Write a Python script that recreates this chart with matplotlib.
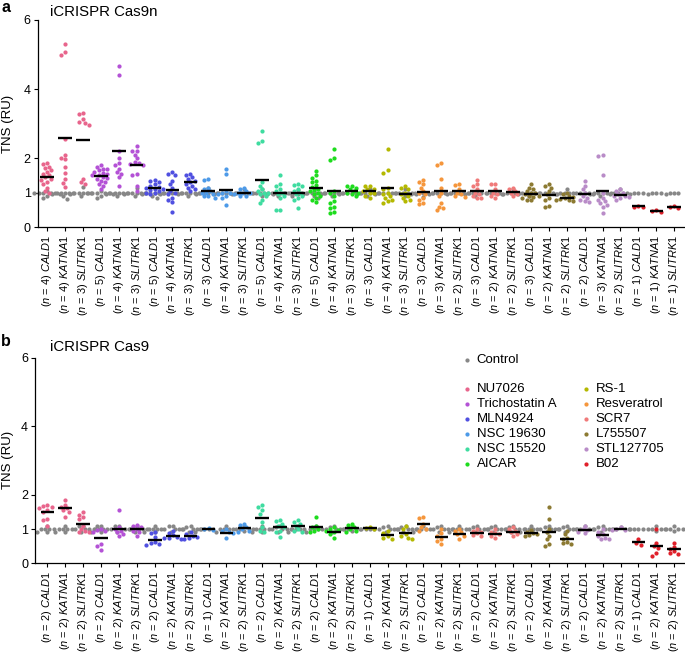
import numpy as np
import matplotlib
matplotlib.use("Agg")
import matplotlib.pyplot as plt
from matplotlib.lines import Line2D

plt.rcParams['font.family'] = ['Liberation Sans', 'DejaVu Sans']
plt.rcParams['mathtext.fontset'] = 'custom'
plt.rcParams['mathtext.rm'] = 'Liberation Sans'
plt.rcParams['mathtext.it'] = 'Liberation Sans:italic'
plt.rcParams['mathtext.bf'] = 'Liberation Sans:bold'

# ---------------- data ----------------
drugs = ["NU7026", "Trichostatin A", "MLN4924", "NSC 19630", "NSC 15520", "AICAR",
         "RS-1", "Resveratrol", "SCR7", "L755507", "STL127705", "B02"]
drug_colors = ["#e8658c", "#b452d6", "#5050e0", "#4d9ae8", "#3fdca0", "#1edc1e",
               "#b4b800", "#f5963c", "#f07a7a", "#8c7a32", "#b98cc8", "#e0202a"]
genes = ["CALD1", "KATNA1", "SLITRK1"]
control_color = "#878787"

n_a = [4, 4, 3, 5, 4, 3, 5, 4, 3, 3, 4, 3, 5, 4, 3, 5, 4, 3,
       3, 4, 3, 3, 3, 2, 3, 2, 2, 3, 2, 2, 2, 3, 2, 1, 1, 1]
n_b = [2, 2, 2, 2, 2, 2, 2, 2, 2, 1, 2, 2, 2, 2, 2, 2, 2, 2,
       1, 2, 2, 2, 2, 2, 2, 2, 2, 2, 2, 2, 2, 2, 2, 1, 2, 2]

# Panel a (iCRISPR Cas9n) treatment values
treat_a = [
    [1.85, 1.82, 1.75, 1.72, 1.65, 1.6, 1.55, 1.5, 1.45, 1.4, 1.38, 1.3, 1.25, 1.15, 1.05, 1.0],
    [5.31, 5.07, 4.99, 2.55, 2.09, 2.02, 1.97, 1.75, 1.56, 1.4, 1.29, 1.17],
    [3.32, 3.27, 3.13, 3.05, 3.03, 2.97, 1.41, 1.3, 1.25],
    [1.8, 1.75, 1.7, 1.68, 1.65, 1.6, 1.58, 1.55, 1.5, 1.5, 1.45, 1.42, 1.4, 1.35, 1.3, 1.25, 1.2, 1.1],
    [4.68, 4.4, 2.2, 2.0, 1.85, 1.8, 1.7, 1.6, 1.55, 1.45, 1.2],
    [2.35, 2.2, 2.2, 2.1, 2.0, 1.9, 1.85, 1.82, 1.8, 1.55, 1.5, 1.2, 1.05],
    [1.38, 1.35, 1.3, 1.25, 1.2, 1.18, 1.15, 1.12, 1.1, 1.08, 1.05, 1.0, 1.0, 0.95],
    [1.6, 1.55, 1.5, 1.35, 1.25, 1.15, 1.05, 1.0, 0.95, 0.85, 0.8, 0.72, 0.45],
    [1.55, 1.5, 1.45, 1.4, 1.35, 1.3, 1.25, 1.2, 1.15, 1.1, 1.05],
    [1.4, 1.38, 1.15, 1.1, 1.05, 1.0, 1.0, 0.95, 0.9, 0.85, 0.9],
    [1.7, 1.55, 1.05, 1.0, 1.0, 0.95, 0.9, 0.85, 0.65],
    [1.15, 1.1, 1.05, 1.0, 1.0, 0.98, 0.95, 0.92, 0.9],
    [2.78, 2.5, 2.45, 1.3, 1.2, 1.1, 1.05, 1.0, 1.0, 0.95, 0.9, 0.8, 0.7],
    [1.5, 1.25, 1.2, 1.1, 1.05, 1.0, 0.95, 0.9, 0.85, 0.5, 0.5],
    [1.25, 1.22, 1.2, 1.1, 1.05, 1.0, 0.95, 0.9, 0.85, 0.8, 0.55],
    [1.62, 1.5, 1.42, 1.35, 1.3, 1.22, 1.18, 1.12, 1.08, 1.05, 1.0, 0.95, 0.9, 0.85, 0.78, 0.72],
    [2.28, 2.0, 1.95, 1.05, 1.0, 0.9, 0.75, 0.7, 0.6, 0.55, 0.45, 0.4],
    [1.2, 1.2, 1.15, 1.1, 1.05, 1.0, 1.0, 0.95, 0.9],
    [1.2, 1.2, 1.12, 1.1, 1.05, 1.0, 0.98, 0.92, 0.85],
    [2.28, 1.65, 1.58, 1.15, 1.1, 1.0, 0.95, 0.9, 0.85, 0.8, 0.75, 0.7],
    [1.2, 1.15, 1.1, 1.0, 0.95, 0.9, 0.85, 0.8, 0.75],
    [1.38, 1.3, 1.25, 1.15, 1.05, 1.0, 0.95, 0.85, 0.8, 0.7, 0.68],
    [1.85, 1.8, 1.4, 1.15, 1.0, 0.9, 0.7, 0.6, 0.55, 0.5],
    [1.25, 1.22, 1.1, 1.0, 0.95, 0.9, 0.88],
    [1.38, 1.25, 1.2, 1.1, 1.0, 0.95, 0.9, 0.85, 0.85],
    [1.25, 1.25, 1.1, 1.0, 0.95, 0.9, 0.85],
    [1.15, 1.1, 1.05, 1.0, 0.95, 0.9],
    [1.25, 1.15, 1.1, 1.05, 1.0, 0.98, 0.95, 0.92, 0.9, 0.88, 0.85, 0.8, 0.78],
    [1.25, 1.2, 1.15, 1.05, 0.95, 0.85, 0.8, 0.62, 0.6],
    [1.0, 0.95, 0.9, 0.88, 0.85, 0.82, 0.8, 0.78, 0.75],
    [1.35, 1.2, 1.1, 1.0, 0.9, 0.85, 0.8, 0.75, 0.72],
    [2.1, 2.05, 1.5, 1.0, 0.85, 0.8, 0.75, 0.7, 0.65, 0.6, 0.42],
    [1.1, 1.05, 1.0, 0.95, 0.92, 0.9, 0.88, 0.85, 0.8],
    [0.63, 0.6, 0.58],
    [0.5, 0.47, 0.45],
    [0.62, 0.6, 0.57],
]
ctrl_a = [
    [1, 1, 1, 1, 1, 0.95, 0.92, 0.85, 1.05],
    [1, 1, 1, 1, 1, 0.95, 0.9, 0.82],
    [1, 1, 1, 1, 1, 1.17, 0.95, 0.9],
    [1, 1, 1, 1, 1, 0.95, 0.9, 0.85, 1.05],
    [1, 1, 1, 1, 1, 0.95, 0.9],
    [1, 1, 1, 1, 1, 1.15, 0.95, 0.9],
    [1, 1, 1, 1, 1, 0.95, 0.9, 0.85],
    [1, 1, 1, 1, 1, 0.95],
    [1, 1, 1, 1, 1, 0.95, 0.9],
    [1, 1, 1, 1, 1, 1.15, 0.95],
    [1, 1, 1, 1, 1, 0.95],
    [1, 1, 1, 1, 1, 1.12, 0.95],
    [1, 1, 1, 1, 1, 0.95, 0.9, 1.1],
    [1, 1, 1, 1, 1, 0.95, 0.9],
    [1, 1, 1, 1, 1, 0.95, 0.9, 1.08],
    [1, 1, 1, 1, 1, 1.15, 0.95, 0.9, 0.85],
    [1, 1, 1, 1, 1, 0.95, 0.9],
    [1, 1, 1, 1, 1, 0.95],
    [1, 1, 1, 1, 1, 1.12, 0.95, 0.9],
    [1, 1, 1, 1, 1, 0.95],
    [1, 1, 1, 1, 1, 1.1, 0.95, 0.9],
    [1, 1, 1, 1, 1, 0.95, 0.88],
    [1, 1, 1, 1, 1, 0.95],
    [1, 1, 1, 1, 1, 0.95],
    [1, 1, 1, 1, 1, 0.95, 0.9],
    [1, 1, 1, 1, 0.95],
    [1, 1, 1, 1, 1.1, 0.95],
    [1, 1, 1, 1, 1, 0.95, 0.9],
    [1, 1, 1, 1, 0.95],
    [1, 1, 1, 1, 1.1, 0.95],
    [1, 1, 1, 1, 0.95],
    [1, 1, 1, 1, 1, 0.95, 0.9],
    [1, 1, 1, 1, 1.1, 0.95],
    [1, 1, 1, 0.95],
    [1, 1, 1, 0.95],
    [1, 1, 1, 0.95],
]

# Panel b (iCRISPR Cas9) treatment values
treat_b = [
    [1.7, 1.68, 1.65, 1.6, 1.55, 1.5, 1.3, 1.25, 1.1],
    [1.85, 1.7, 1.65, 1.6, 1.55, 1.5, 1.35],
    [1.5, 1.42, 1.35, 1.3, 1.1, 1.0, 0.95, 0.9, 0.9],
    [1.0, 0.98, 0.95, 0.9, 0.55, 0.5, 0.38],
    [1.55, 1.05, 1.0, 0.95, 0.9, 0.85, 0.8],
    [1.12, 1.1, 1.05, 1.0, 0.95, 0.9, 0.8],
    [0.92, 0.88, 0.78, 0.62, 0.58, 0.55, 0.52],
    [0.95, 0.88, 0.82, 0.78, 0.75, 0.75, 0.72],
    [0.9, 0.85, 0.8, 0.78, 0.75, 0.72],
    [1.02, 1.0, 0.98],
    [1.0, 0.95, 0.9, 0.88, 0.75],
    [1.15, 1.12, 1.05, 1.0, 0.95, 0.92],
    [1.7, 1.65, 1.55, 1.45, 1.2, 1.05, 0.95, 0.9],
    [1.25, 1.22, 1.15, 1.1, 1.05, 0.95, 0.9, 0.78],
    [1.25, 1.2, 1.15, 1.1, 1.0, 0.95, 0.92],
    [1.35, 1.1, 1.05, 1.0, 0.95, 0.92],
    [1.05, 1.0, 0.98, 0.95, 0.9, 0.85, 0.75],
    [1.15, 1.12, 1.05, 1.0, 0.95, 0.92],
    [1.05, 1.02, 1.0],
    [0.95, 0.88, 0.8, 0.75, 0.72],
    [1.1, 1.0, 0.85, 0.8, 0.75, 0.72],
    [1.35, 1.32, 1.15, 1.05, 1.0, 0.95],
    [1.0, 0.88, 0.8, 0.72, 0.65, 0.55],
    [1.0, 0.95, 0.9, 0.85, 0.8, 0.7],
    [1.0, 0.95, 0.92, 0.88, 0.82, 0.8],
    [1.0, 0.92, 0.88, 0.85, 0.8, 0.75],
    [1.05, 1.0, 0.95, 0.9, 0.85, 0.8],
    [0.98, 0.92, 0.88, 0.85, 0.82, 0.8],
    [1.65, 1.3, 1.0, 0.9, 0.8, 0.7, 0.55, 0.5],
    [0.95, 0.85, 0.75, 0.7, 0.62, 0.58, 0.55],
    [1.1, 1.0, 0.98, 0.92, 0.88],
    [1.0, 0.92, 0.85, 0.8, 0.75, 0.72, 0.7],
    [1.05, 1.0, 0.98, 0.97],
    [0.7, 0.6, 0.52],
    [1.0, 0.6, 0.5, 0.45, 0.3, 0.22],
    [0.6, 0.48, 0.42, 0.35, 0.3, 0.28],
]
ctrl_b = [
    [1, 1, 1, 1, 1.1, 0.92, 0.9],
    [1, 1, 1, 1, 1.1, 0.92, 0.9],
    [1, 1, 1, 1, 1.1, 1.08, 0.92],
    [1, 1, 1, 1, 1.1, 1.1, 0.92, 0.9],
    [1, 1, 1, 1, 1.1, 1.08, 0.92],
    [1, 1, 1, 1, 1.1, 1.05, 0.92],
    [1, 1, 1, 1, 1.1, 0.92, 0.9],
    [1, 1, 1, 1, 1.1, 1.08, 0.92],
    [1, 1, 1, 1, 1.1, 1.05, 0.92, 0.9],
    [1, 1, 1, 1],
    [1, 1, 1, 1, 1.1, 0.92],
    [1, 1, 1, 1, 1.08, 0.95],
    [1, 1, 1, 1, 1.1, 0.92, 0.9],
    [1, 1, 1, 1, 1.1, 1.05, 0.92],
    [1, 1, 1, 1, 1.1, 0.92],
    [1, 1, 1, 1, 1.1, 0.92],
    [1, 1, 1, 1, 1.1, 1.05, 0.92],
    [1, 1, 1, 1, 1.08, 0.95],
    [1, 1, 1, 1],
    [1, 1, 1, 1, 1.1, 1.05, 0.92],
    [1, 1, 1, 1, 1.1, 1.05, 0.92],
    [1, 1, 1, 1, 1.1, 0.92],
    [1, 1, 1, 1, 1.1, 1.05, 0.92],
    [1, 1, 1, 1, 1.1, 0.92],
    [1, 1, 1, 1, 1.1, 1.05, 0.92],
    [1, 1, 1, 1, 1.1, 1.05, 0.92],
    [1, 1, 1, 1, 1.1, 1.05, 0.92],
    [1, 1, 1, 1, 1.1, 0.92],
    [1, 1, 1, 1, 1.1, 1.05, 0.92],
    [1, 1, 1, 1, 1.1, 1.05, 0.92],
    [1, 1, 1, 1, 1.08],
    [1, 1, 1, 1, 1.1, 1.05, 0.92],
    [1, 1, 1, 1, 1.05],
    [1, 1, 1, 1],
    [1, 1, 1, 1, 1.08, 0.95],
    [1, 1, 1, 1, 1.08, 0.95],
]

# ---------------- layout ----------------
W, H = 685, 654
fig = plt.figure(figsize=(W / 100, H / 100), dpi=100)


def px_axes(left, right, top, bottom):
    return fig.add_axes([left / W, 1 - bottom / H, (right - left) / W, (bottom - top) / H])


DOT = 4.2          # marker diameter, px
MS = (DOT * 0.72) ** 2


def swarm(vals, px_unit_y, px_unit_x):
    vals = np.asarray(vals, float)
    order = np.argsort(-vals, kind="stable")
    placed = []
    offs = np.zeros(len(vals))
    cands = [0.0]
    for k in range(1, 30):
        cands += [-k * DOT * 0.5, k * DOT * 0.5]
    for i in order:
        y = vals[i] * px_unit_y
        for c in cands:
            if all((c - px) ** 2 + (y - py) ** 2 >= (DOT * 0.95) ** 2 for px, py in placed):
                break
        placed.append((c, y))
        offs[i] = c / px_unit_x
    return offs


def draw_panel(ax, treat, ctrl, ns, xlim, spine_px, title, letter, letter_xy, title_xy):
    ncat = len(treat)
    ax.set_xlim(*xlim)
    ax.set_ylim(0, 6)
    bbox = ax.get_position()
    px_x = bbox.width * W / (xlim[1] - xlim[0])
    px_y = bbox.height * H / 6.0
    for i in range(ncat):
        col = drug_colors[i // 3]
        oc = swarm(ctrl[i], px_y, px_x)
        ot = swarm(treat[i], px_y, px_x)
        ax.scatter(i + ot, treat[i], s=MS, color=col, linewidths=0, zorder=3, clip_on=False)
        ax.scatter(i + oc, ctrl[i], s=MS, color=control_color, linewidths=0, zorder=2, clip_on=False)
        ax.hlines(np.mean(treat[i]), i - 0.38, i + 0.38, color="black", lw=1.7, zorder=4)
    ax.set_xticks(range(ncat))
    labels = [r"($\mathit{n}$ = %d) $\mathit{%s}$" % (ns[i], genes[i % 3]) for i in range(ncat)]
    ax.set_xticklabels(labels, rotation=90, fontsize=7.9)
    ax.set_yticks([0, 1, 2, 4, 6])
    ax.set_yticklabels(["0", "1", "2", "4", "6"], fontsize=9)
    ax.tick_params(axis="both", length=3, width=0.8, pad=2, direction="out")
    ax.tick_params(axis="x", pad=2.5)
    for s in ["top", "right"]:
        ax.spines[s].set_visible(False)
    for s in ["left", "bottom"]:
        ax.spines[s].set_linewidth(0.9)
    ax.set_ylabel("TNS (RU)", fontsize=9.5)
    ax.yaxis.set_label_coords(-(spine_px - 14.5) / (bbox.width * W), 0.5)
    fig.text(letter_xy[0] / W, 1 - letter_xy[1] / H, letter, fontsize=11.5, fontweight="bold",
             ha="left", va="center")
    fig.text(title_xy[0] / W, 1 - title_xy[1] / H, title, fontsize=10.8, ha="left", va="center")


ax_a = px_axes(37.7, 685, 20, 227.3)
draw_panel(ax_a, treat_a, ctrl_a, n_a, (-0.52, 35.6), 37.7, "iCRISPR Cas9n", "a", (1, 8), (50, 12))

ax_b = px_axes(35, 685, 357.5, 563.3)
draw_panel(ax_b, treat_b, ctrl_b, n_b, (-0.69, 35.6), 35, "iCRISPR Cas9", "b", (1, 341), (50, 347))

# ---------------- legend ----------------
def legend_entry(xd, y, label, color):
    fig.add_artist(Line2D([xd / W], [1 - y / H], marker="o", markersize=DOT * 0.72,
                          markeredgewidth=0, color=color, linestyle="none",
                          transform=fig.transFigure))
    fig.text((xd + 9.5) / W, 1 - y / H, label, fontsize=9.5, ha="left", va="center")


legend_entry(467, 359.5, "Control", control_color)
for k, (name, col) in enumerate(zip(drugs, drug_colors)):
    colx = 467 if k < 6 else 586
    row = k % 6
    legend_entry(colx, 388.7 + row * 15.05, name, col)

fig.savefig("out.png", dpi=100)
